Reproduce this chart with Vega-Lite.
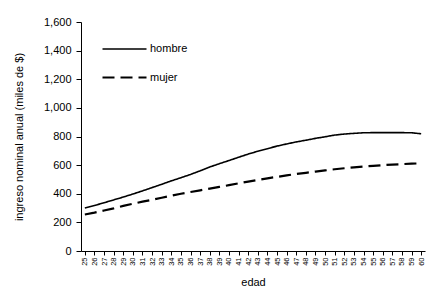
{
  "$schema": "https://vega.github.io/schema/vega-lite/v6.json",
  "autosize": "none",
  "width": 344,
  "height": 229,
  "padding": {"left": 81, "top": 22, "right": 3, "bottom": 36},
  "background": "white",
  "config": {
    "font": "Liberation Sans",
    "view": {"stroke": null},
    "axis": {"grid": false, "domainColor": "black", "tickColor": "black", "labelColor": "black", "titleColor": "black", "titleFontWeight": "normal"}
  },
  "data": {
    "values": [
      {"edad": 25, "sexo": "hombre", "v": 300}, {"edad": 26, "sexo": "hombre", "v": 318}, {"edad": 27, "sexo": "hombre", "v": 337},
      {"edad": 28, "sexo": "hombre", "v": 357}, {"edad": 29, "sexo": "hombre", "v": 377}, {"edad": 30, "sexo": "hombre", "v": 398},
      {"edad": 31, "sexo": "hombre", "v": 420}, {"edad": 32, "sexo": "hombre", "v": 443}, {"edad": 33, "sexo": "hombre", "v": 466},
      {"edad": 34, "sexo": "hombre", "v": 490}, {"edad": 35, "sexo": "hombre", "v": 512}, {"edad": 36, "sexo": "hombre", "v": 535},
      {"edad": 37, "sexo": "hombre", "v": 560}, {"edad": 38, "sexo": "hombre", "v": 587}, {"edad": 39, "sexo": "hombre", "v": 610},
      {"edad": 40, "sexo": "hombre", "v": 632}, {"edad": 41, "sexo": "hombre", "v": 655}, {"edad": 42, "sexo": "hombre", "v": 677},
      {"edad": 43, "sexo": "hombre", "v": 697}, {"edad": 44, "sexo": "hombre", "v": 715}, {"edad": 45, "sexo": "hombre", "v": 733},
      {"edad": 46, "sexo": "hombre", "v": 748}, {"edad": 47, "sexo": "hombre", "v": 762}, {"edad": 48, "sexo": "hombre", "v": 774},
      {"edad": 49, "sexo": "hombre", "v": 787}, {"edad": 50, "sexo": "hombre", "v": 798}, {"edad": 51, "sexo": "hombre", "v": 810},
      {"edad": 52, "sexo": "hombre", "v": 817}, {"edad": 53, "sexo": "hombre", "v": 822}, {"edad": 54, "sexo": "hombre", "v": 826},
      {"edad": 55, "sexo": "hombre", "v": 827}, {"edad": 56, "sexo": "hombre", "v": 827}, {"edad": 57, "sexo": "hombre", "v": 827},
      {"edad": 58, "sexo": "hombre", "v": 827}, {"edad": 59, "sexo": "hombre", "v": 826}, {"edad": 60, "sexo": "hombre", "v": 819},
      {"edad": 25, "sexo": "mujer", "v": 255}, {"edad": 26, "sexo": "mujer", "v": 268}, {"edad": 27, "sexo": "mujer", "v": 283},
      {"edad": 28, "sexo": "mujer", "v": 298}, {"edad": 29, "sexo": "mujer", "v": 315}, {"edad": 30, "sexo": "mujer", "v": 330},
      {"edad": 31, "sexo": "mujer", "v": 345}, {"edad": 32, "sexo": "mujer", "v": 358}, {"edad": 33, "sexo": "mujer", "v": 372},
      {"edad": 34, "sexo": "mujer", "v": 386}, {"edad": 35, "sexo": "mujer", "v": 400}, {"edad": 36, "sexo": "mujer", "v": 412},
      {"edad": 37, "sexo": "mujer", "v": 424}, {"edad": 38, "sexo": "mujer", "v": 436}, {"edad": 39, "sexo": "mujer", "v": 448},
      {"edad": 40, "sexo": "mujer", "v": 460}, {"edad": 41, "sexo": "mujer", "v": 473}, {"edad": 42, "sexo": "mujer", "v": 485},
      {"edad": 43, "sexo": "mujer", "v": 497}, {"edad": 44, "sexo": "mujer", "v": 508}, {"edad": 45, "sexo": "mujer", "v": 518},
      {"edad": 46, "sexo": "mujer", "v": 528}, {"edad": 47, "sexo": "mujer", "v": 538}, {"edad": 48, "sexo": "mujer", "v": 546},
      {"edad": 49, "sexo": "mujer", "v": 555}, {"edad": 50, "sexo": "mujer", "v": 563}, {"edad": 51, "sexo": "mujer", "v": 571},
      {"edad": 52, "sexo": "mujer", "v": 578}, {"edad": 53, "sexo": "mujer", "v": 584}, {"edad": 54, "sexo": "mujer", "v": 590},
      {"edad": 55, "sexo": "mujer", "v": 595}, {"edad": 56, "sexo": "mujer", "v": 600}, {"edad": 57, "sexo": "mujer", "v": 604},
      {"edad": 58, "sexo": "mujer", "v": 607}, {"edad": 59, "sexo": "mujer", "v": 610}, {"edad": 60, "sexo": "mujer", "v": 613}
    ]
  },
  "mark": {"type": "line", "color": "black"},
  "encoding": {
    "x": {
      "field": "edad", "type": "ordinal",
      "scale": {"type": "point", "padding": 0.4},
      "axis": {"title": "edad", "labelAngle": 270, "labelFontSize": 7.5, "labelPadding": 2, "tickSize": 4, "titleFontSize": 11, "titlePadding": 11}
    },
    "y": {
      "field": "v", "type": "quantitative",
      "scale": {"domain": [0, 1600], "nice": false},
      "axis": {"title": "ingreso nominal anual (miles de $)", "values": [0, 200, 400, 600, 800, 1000, 1200, 1400, 1600], "format": ",.0f", "labelFontSize": 11, "tickSize": 5, "labelPadding": 5, "titleFontSize": 11, "titlePadding": 19}
    },
    "strokeDash": {
      "field": "sexo", "type": "nominal",
      "scale": {"domain": ["hombre", "mujer"], "range": [[1, 0], [12, 6]]},
      "legend": {"title": null, "orient": "none", "legendX": 20, "legendY": 4, "symbolType": "stroke", "symbolSize": 1936, "symbolStrokeColor": "black", "symbolStrokeWidth": 2, "labelFontSize": 11, "rowPadding": -12, "labelOffset": 2, "padding": 0}
    },
    "strokeWidth": {
      "field": "sexo", "type": "nominal",
      "scale": {"domain": ["hombre", "mujer"], "range": [1.6, 2.2]},
      "legend": null
    }
  }
}
